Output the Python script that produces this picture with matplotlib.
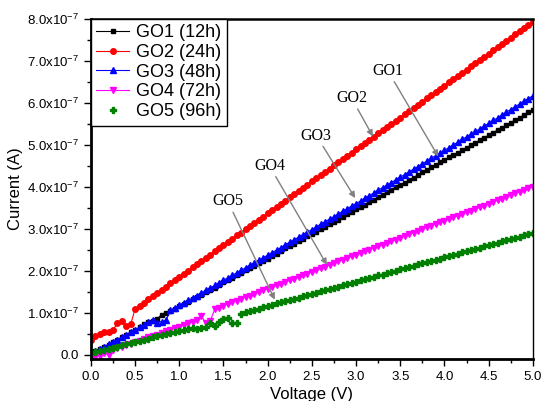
import matplotlib
matplotlib.use("Agg")
import matplotlib.pyplot as plt
import numpy as np
from matplotlib.ticker import FuncFormatter, MultipleLocator

plt.rcParams['font.family'] = ['Liberation Sans', 'DejaVu Sans']
plt.rcParams['mathtext.fontset'] = 'custom'
plt.rcParams['mathtext.rm'] = 'Liberation Sans'
plt.rcParams['mathtext.it'] = 'Liberation Sans:italic'

# voltage sweep, 0.05 V step
voltage = np.linspace(0, 5, 101)

# currents in units of 1e-7 A
go1 = [0.02, 0.08, 0.13, 0.19, 0.24, 0.30, 0.36, 0.41, 0.47, 0.53,
       0.58, 0.66, 0.72, 0.78, 0.81, 0.86, 0.95, 0.99, 1.03, 1.09,
       1.15, 1.21, 1.26, 1.32, 1.38, 1.43, 1.49, 1.55, 1.60, 1.66,
       1.72, 1.78, 1.83, 1.89, 1.95, 2.01, 2.06, 2.12, 2.18, 2.24,
       2.29, 2.35, 2.41, 2.47, 2.53, 2.58, 2.64, 2.70, 2.76, 2.82,
       2.87, 2.93, 2.99, 3.05, 3.11, 3.16, 3.22, 3.28, 3.34, 3.40,
       3.46, 3.52, 3.57, 3.63, 3.69, 3.75, 3.81, 3.87, 3.93, 3.99,
       4.04, 4.10, 4.16, 4.22, 4.28, 4.34, 4.40, 4.46, 4.52, 4.58,
       4.64, 4.70, 4.75, 4.81, 4.87, 4.93, 4.99, 5.05, 5.11, 5.17,
       5.23, 5.29, 5.35, 5.41, 5.47, 5.53, 5.59, 5.65, 5.71, 5.77,
       5.83]
go2 = [0.36, 0.44, 0.50, 0.53, 0.55, 0.58, 0.76, 0.80, 0.69, 0.72,
       1.09, 1.17, 1.24, 1.32, 1.39, 1.47, 1.55, 1.62, 1.70, 1.77,
       1.85, 1.93, 2.00, 2.08, 2.15, 2.23, 2.31, 2.38, 2.46, 2.53,
       2.61, 2.69, 2.76, 2.84, 2.91, 2.99, 3.07, 3.14, 3.22, 3.29,
       3.37, 3.45, 3.52, 3.60, 3.67, 3.75, 3.83, 3.90, 3.98, 4.05,
       4.13, 4.21, 4.28, 4.36, 4.43, 4.51, 4.59, 4.66, 4.74, 4.81,
       4.89, 4.97, 5.04, 5.12, 5.19, 5.27, 5.35, 5.42, 5.50, 5.57,
       5.65, 5.73, 5.80, 5.88, 5.95, 6.03, 6.11, 6.18, 6.26, 6.33,
       6.41, 6.49, 6.56, 6.64, 6.71, 6.79, 6.87, 6.94, 7.02, 7.09,
       7.17, 7.25, 7.32, 7.40, 7.47, 7.55, 7.63, 7.70, 7.78, 7.85,
       7.93]
go3 = [0.02, 0.08, 0.13, 0.19, 0.25, 0.31, 0.36, 0.42, 0.48, 0.54,
       0.59, 0.65, 0.71, 0.77, 0.83, 0.76, 0.79, 0.82, 1.06, 1.12,
       1.18, 1.24, 1.30, 1.35, 1.41, 1.47, 1.53, 1.59, 1.65, 1.71,
       1.77, 1.83, 1.89, 1.95, 2.01, 2.07, 2.13, 2.19, 2.25, 2.31,
       2.37, 2.43, 2.49, 2.55, 2.62, 2.68, 2.74, 2.80, 2.86, 2.92,
       2.98, 3.04, 3.11, 3.17, 3.23, 3.29, 3.35, 3.42, 3.48, 3.54,
       3.60, 3.66, 3.73, 3.79, 3.85, 3.92, 3.98, 4.04, 4.10, 4.17,
       4.23, 4.29, 4.36, 4.42, 4.48, 4.55, 4.61, 4.68, 4.74, 4.80,
       4.87, 4.93, 5.00, 5.06, 5.13, 5.19, 5.25, 5.32, 5.38, 5.45,
       5.51, 5.58, 5.64, 5.71, 5.78, 5.84, 5.91, 5.97, 6.04, 6.10,
       6.17]
go4 = [-0.08, -0.05, -0.02, 0.03, 0.00, 0.11, 0.15, 0.18, 0.22, 0.26,
       0.30, 0.33, 0.37, 0.41, 0.45, 0.48, 0.52, 0.56, 0.60, 0.63,
       0.67, 0.71, 0.75, 0.78, 0.82, 0.93, 0.75, 0.80, 1.08, 1.12,
       1.17, 1.21, 1.25, 1.29, 1.33, 1.37, 1.41, 1.45, 1.49, 1.53,
       1.57, 1.61, 1.65, 1.69, 1.73, 1.77, 1.81, 1.85, 1.89, 1.93,
       1.98, 2.02, 2.06, 2.10, 2.14, 2.18, 2.22, 2.26, 2.30, 2.34,
       2.38, 2.42, 2.46, 2.50, 2.54, 2.58, 2.62, 2.66, 2.70, 2.74,
       2.79, 2.83, 2.87, 2.91, 2.95, 2.99, 3.03, 3.07, 3.11, 3.15,
       3.19, 3.23, 3.27, 3.31, 3.35, 3.39, 3.43, 3.47, 3.51, 3.55,
       3.60, 3.64, 3.68, 3.72, 3.76, 3.80, 3.84, 3.88, 3.92, 3.96,
       4.00]
go5 = [0.03, 0.06, 0.08, 0.11, 0.14, 0.17, 0.19, 0.22, 0.25, 0.27,
       0.30, 0.33, 0.35, 0.38, 0.41, 0.44, 0.46, 0.49, 0.52, 0.54,
       0.57, 0.60, 0.62, 0.63, 0.62, 0.64, 0.66, 0.76, 0.69, 0.79,
       0.85, 0.87, 0.76, 0.76, 0.97, 1.02, 1.04, 1.07, 1.10, 1.13,
       1.16, 1.19, 1.22, 1.25, 1.28, 1.31, 1.33, 1.36, 1.39, 1.42,
       1.45, 1.48, 1.51, 1.54, 1.57, 1.60, 1.62, 1.65, 1.68, 1.71,
       1.74, 1.77, 1.80, 1.83, 1.86, 1.89, 1.91, 1.94, 1.97, 2.00,
       2.03, 2.06, 2.09, 2.12, 2.15, 2.18, 2.20, 2.23, 2.26, 2.29,
       2.32, 2.35, 2.38, 2.41, 2.44, 2.47, 2.49, 2.52, 2.55, 2.58,
       2.61, 2.64, 2.67, 2.70, 2.73, 2.76, 2.78, 2.81, 2.84, 2.87,
       2.90]

labels = ["GO1 (12h)", "GO2 (24h)", "GO3 (48h)", "GO4 (72h)", "GO5 (96h)"]
short = ["GO1", "GO2", "GO3", "GO4", "GO5"]
# annotation text positions and arrow targets (V, 1e-7 A)
text_pos = [(3.36, 6.76), (2.95, 6.11), (2.55, 5.22), (2.02, 4.50), (1.55, 3.65)]
arrow_tip = [(3.93, 4.72), (3.19, 5.20), (2.99, 3.73), (2.67, 2.14), (2.08, 1.31)]

fig = plt.figure(figsize=(5.41, 4.01), dpi=100)
ax = fig.add_axes([0.168, 0.105, 0.817, 0.848])

ax.plot(voltage, go1, color='black', marker='s', ms=3.5, lw=0.8, label=labels[0])
ax.plot(voltage, go2, color='red', marker='o', ms=4, lw=0.8, label=labels[1])
ax.plot(voltage, go3, color='blue', marker='^', ms=4.5, lw=0.8, label=labels[2])
ax.plot(voltage, go4, color='magenta', marker='v', ms=4.5, lw=0.8, label=labels[3])
ax.plot(voltage, go5, color='green', marker='P', ms=4.5, lw=0, label=labels[4])

for s, tp, tip in zip(short, text_pos, arrow_tip):
    ax.annotate(s, xy=tip, xytext=tp, ha='center', va='center',
                fontsize=11.5, family='Liberation Serif',
                arrowprops=dict(arrowstyle='-|>', color='gray', lw=1,
                                mutation_scale=9, shrinkA=0, shrinkB=0))

ax.set_xlim(0, 5)
ax.set_ylim(-0.1, 8.0)
ax.xaxis.set_major_locator(MultipleLocator(0.5))
ax.xaxis.set_minor_locator(MultipleLocator(0.25))
ax.yaxis.set_major_locator(MultipleLocator(1))
ax.yaxis.set_minor_locator(MultipleLocator(0.5))
ax.xaxis.set_major_formatter(FuncFormatter(lambda v, p: f"{v:.1f}"))
ax.yaxis.set_major_formatter(FuncFormatter(
    lambda v, p: "0.0" if abs(v) < 1e-9 else f"{v:.1f}x10$^{{\\mathregular{{-7}}}}$"))

ax.tick_params(which='both', direction='out', width=1, labelsize=9.5)
ax.tick_params(which='major', length=5)
ax.tick_params(which='minor', length=3)
ax.spines['left'].set_linewidth(2)
ax.spines['bottom'].set_linewidth(2)
ax.spines['top'].set_linewidth(1.8)
ax.spines['right'].set_linewidth(1)

ax.set_xlabel("Voltage (V)", fontsize=12, labelpad=3)
ax.set_ylabel("Current (A)", fontsize=12, labelpad=3)

leg = ax.legend(loc='upper left', bbox_to_anchor=(0, 1), borderaxespad=0,
                fontsize=13, labelspacing=0.15, handlelength=1.8,
                handletextpad=0.4, borderpad=0.3, fancybox=False,
                edgecolor='black', framealpha=1)
leg.get_frame().set_linewidth(1)

fig.savefig("out.png", dpi=100)
